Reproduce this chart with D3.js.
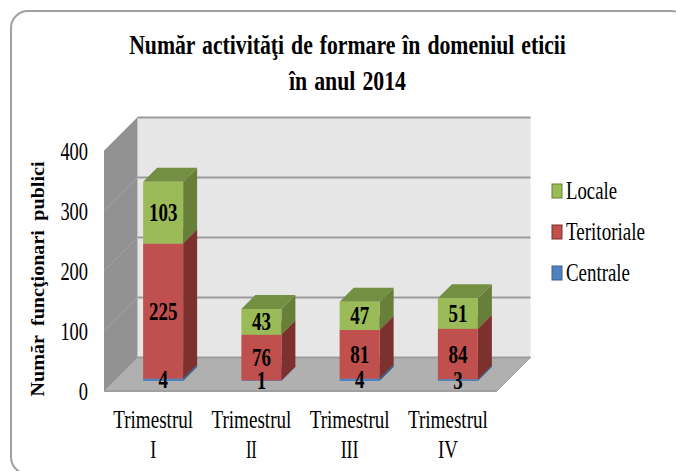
<!DOCTYPE html>
<html>
<head>
<meta charset="utf-8">
<script src="https://cdn.jsdelivr.net/npm/d3@7"></script>
<style>
  html, body { margin: 0; padding: 0; background: #fff; overflow: hidden; }
  text { font-family: "Liberation Serif", serif; fill: #000; }
</style>
</head>
<body>
<div id="chart"></div>
<script>
var categories = ["I", "II", "III", "IV"];
var catWord = "Trimestrul";
var seriesNames = ["Centrale", "Teritoriale", "Locale"];
var centrale = [4, 1, 4, 3];
var teritoriale = [225, 76, 81, 84];
var locale = [103, 43, 47, 51];
var yTicks = [0, 100, 200, 300, 400];

var svgWidth = 676;
var svgHeight = 471;

var colors = {
  Centrale: { front: "#4f81bd", side: "#3a6190", top: "#426a9c" },
  Teritoriale: { front: "#c0504d", side: "#7c312f", top: "#8c3a38" },
  Locale: { front: "#9bbb59", side: "#677f39", top: "#738f41" }
};

var svg = d3.select("#chart")
  .append("svg")
  .attr("width", svgWidth)
  .attr("height", svgHeight)
  .style("display", "block");

// outer frame, right and bottom edges run off the picture
svg.append("rect")
  .attr("x", 11).attr("y", 11)
  .attr("width", 678).attr("height", 463)
  .attr("rx", 17)
  .attr("fill", "#fff")
  .attr("stroke", "#a0a0a0")
  .attr("stroke-width", 2);

// title, squeezed sideways like the stretched original
var titleLine = function(str, y, w) {
  var t = svg.append("text")
    .attr("text-anchor", "middle")
    .attr("font-size", 28).attr("font-weight", "bold")
    .attr("word-spacing", 2)
    .text(str);
  var k = w / t.node().getComputedTextLength();
  t.attr("transform", `translate(347.5, ${y}) scale(${k}, 1)`);
};
titleLine("Număr activităţi de formare în domeniul eticii", 53.5, 437);
titleLine("în anul 2014", 89.5, 117);

// scales, front plane of the 3d box
var xScale = d3.scaleBand().domain(categories).range([104, 497]);
var yScale = d3.scaleLinear().domain([0, 400]).range([391, 151]);

// depth of the box and of the bars
var boxDepth = 33.5;
var barInset = 10;
var barDepth = 14;
var barWidth = 40;

var poly = function(pts) { return pts.map(p => p.join(",")).join(" "); };

var x0 = xScale.range()[0], x1 = xScale.range()[1];
var yBase = yScale(0), yTop = yScale(400);

// back wall
svg.append("polygon")
  .attr("points", poly([[x0 + boxDepth, yTop - boxDepth], [x1 + boxDepth, yTop - boxDepth], [x1 + boxDepth, yBase - boxDepth], [x0 + boxDepth, yBase - boxDepth]]))
  .attr("fill", "#e6e6e6");

// side wall
svg.append("polygon")
  .attr("points", poly([[x0, yTop], [x0 + boxDepth, yTop - boxDepth], [x0 + boxDepth, yBase - boxDepth], [x0, yBase]]))
  .attr("fill", "#929292");

// floor
svg.append("polygon")
  .attr("points", poly([[x0, yBase], [x0 + boxDepth, yBase - boxDepth], [x1 + boxDepth, yBase - boxDepth], [x1, yBase]]))
  .attr("fill", "#b0b0b0")
  .attr("stroke", "#a6a6a6");

// gridlines, faint on the side wall
var gridGroup = svg.append("g");
yTicks.forEach(function(t) {
  var y = yScale(t);
  gridGroup.append("line")
    .attr("x1", x0).attr("y1", y)
    .attr("x2", x0 + boxDepth).attr("y2", y - boxDepth)
    .attr("stroke", "#a2a2a2")
    .attr("stroke-width", 1);
  gridGroup.append("line")
    .attr("x1", x0 + boxDepth).attr("y1", y - boxDepth)
    .attr("x2", x1 + boxDepth).attr("y2", y - boxDepth)
    .attr("stroke", "#9c9c9c")
    .attr("stroke-width", 2);
});
gridGroup.append("line")
  .attr("x1", x0).attr("x2", x1).attr("y1", yBase).attr("y2", yBase)
  .attr("stroke", "#a0a0a0").attr("stroke-width", 2);

// stacked bars
var rows = categories.map(function(c, i) {
  return { cat: c, Centrale: centrale[i], Teritoriale: teritoriale[i], Locale: locale[i] };
});
var stacked = d3.stack().keys(seriesNames)(rows);

var barLeft = function(cat) { return xScale(cat) + xScale.bandwidth() / 2 - barWidth / 2 + barInset; };
var barY = function(v) { return yScale(v) - barInset; };

var barsGroup = svg.append("g");
stacked.forEach(function(layer) {
  var col = colors[layer.key];
  layer.forEach(function(d) {
    var l = barLeft(d.data.cat), r = l + barWidth;
    var yb = barY(d[0]), yt = barY(d[1]);
    barsGroup.append("polygon")
      .attr("points", poly([[r, yb], [r + barDepth, yb - barDepth], [r + barDepth, yt - barDepth], [r, yt]]))
      .attr("fill", col.side);
    barsGroup.append("polygon")
      .attr("points", poly([[l, yt], [l + barDepth, yt - barDepth], [r + barDepth, yt - barDepth], [r, yt]]))
      .attr("fill", col.top);
    barsGroup.append("rect")
      .attr("x", l).attr("y", yt)
      .attr("width", barWidth).attr("height", yb - yt)
      .attr("fill", col.front);
  });
});

// data labels
stacked.forEach(function(layer) {
  svg.append("g").selectAll("text")
    .data(layer)
    .enter()
    .append("text")
    .attr("x", d => barLeft(d.data.cat) + barWidth / 2)
    .attr("y", d => barY((d[0] + d[1]) / 2) + 8.5)
    .attr("text-anchor", "middle")
    .attr("font-size", 26).attr("font-weight", "bold")
    .attr("textLength", d => String(d[1] - d[0]).length * 9.5)
    .attr("lengthAdjust", "spacingAndGlyphs")
    .text(d => d[1] - d[0]);
});

// y axis
var leftAxis = d3.axisLeft(yScale).tickValues(yTicks).tickSize(0).tickPadding(16);
var yAxisGroup = svg.append("g")
  .attr("transform", `translate(${x0}, 0)`)
  .call(leftAxis);
yAxisGroup.select(".domain").remove();
yAxisGroup.selectAll("text")
  .attr("font-size", 25)
  .attr("textLength", d => String(d).length * 9.2)
  .attr("lengthAdjust", "spacingAndGlyphs");

// x axis, two line labels
var numeralWidth = { I: 6, II: 11, III: 18, IV: 20 };
var bottomAxis = d3.axisBottom(xScale).tickSize(0).tickFormat("");
var xAxisGroup = svg.append("g")
  .attr("transform", `translate(0, ${yBase})`)
  .call(bottomAxis);
xAxisGroup.select(".domain").remove();
xAxisGroup.selectAll(".tick").each(function(d) {
  var tick = d3.select(this);
  tick.select("text").remove();
  tick.append("text")
    .attr("y", 37).attr("text-anchor", "middle")
    .attr("font-size", 26)
    .attr("textLength", 80).attr("lengthAdjust", "spacingAndGlyphs")
    .text(catWord);
  tick.append("text")
    .attr("y", 67).attr("text-anchor", "middle")
    .attr("font-size", 26)
    .attr("textLength", numeralWidth[d]).attr("lengthAdjust", "spacingAndGlyphs")
    .text(d);
});

// y axis title
svg.append("text")
  .attr("transform", "translate(44, 279) rotate(-90)")
  .attr("text-anchor", "middle")
  .attr("font-size", 18).attr("font-weight", "bold")
  .attr("word-spacing", 4)
  .attr("textLength", 235).attr("lengthAdjust", "spacingAndGlyphs")
  .text("Număr funcţionari publici");

// legend
var legendNames = seriesNames.slice().reverse();
var legendWidth = { Locale: 51, Teritoriale: 79, Centrale: 64 };
var legendY = d3.scalePoint().domain(legendNames).range([191, 273]);
var legend = svg.append("g").selectAll("g")
  .data(legendNames)
  .enter()
  .append("g")
  .attr("transform", d => `translate(552, ${legendY(d)})`);
legend.append("rect")
  .attr("x", 0).attr("y", -7)
  .attr("width", 10).attr("height", 14)
  .attr("fill", d => colors[d].front)
  .attr("stroke", d => colors[d].side)
  .attr("stroke-width", 1);
legend.append("text")
  .attr("x", 14).attr("y", 8)
  .attr("font-size", 26)
  .attr("textLength", d => legendWidth[d])
  .attr("lengthAdjust", "spacingAndGlyphs")
  .text(d => d);
</script>
</body>
</html>
